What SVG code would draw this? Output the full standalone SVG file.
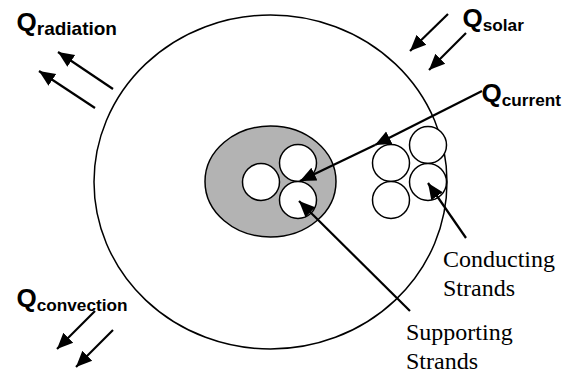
<svg xmlns="http://www.w3.org/2000/svg" width="563" height="373" viewBox="0 0 563 373">
<style>
.c{fill:#fff;stroke:#000;stroke-width:1.5}
.a{stroke:#000;stroke-width:2.2;fill:none;marker-end:url(#h)}
.q{font-family:"Liberation Sans",Arial,sans-serif;font-weight:bold;font-size:26px;fill:#000}
.s{font-size:17.2px}
.r{font-size:19px}
.t{font-family:"Liberation Serif","Times New Roman",serif;font-size:24px;fill:#000}
</style>
<defs><marker id="h" markerUnits="userSpaceOnUse" markerWidth="18" markerHeight="16" refX="16" refY="8" orient="auto"><path d="M0 1L16 8L0 15z" fill="#000"/></marker></defs>
<g id="outer"><ellipse class="c" cx="270.5" cy="182" rx="176.5" ry="167"/></g>
<g id="core"><ellipse cx="270.5" cy="181.5" rx="65.5" ry="55.5" fill="#b3b3b3" stroke="#000" stroke-width="1.5"/></g>
<g id="supporting-strands">
<circle class="c" cx="261" cy="182" r="18.5"/>
<circle class="c" cx="298" cy="163" r="18.5"/>
<circle class="c" cx="298" cy="200" r="18.5"/>
</g>
<g id="conducting-strands">
<circle class="c" cx="428" cy="145" r="18.5"/>
<circle class="c" cx="391" cy="163" r="18.5"/>
<circle class="c" cx="428" cy="182" r="18.5"/>
<circle class="c" cx="391" cy="200" r="18.5"/>
</g>
<g id="connectors">
<path class="a" d="M113 89L58 52"/>
<path class="a" d="M95 108L39 71"/>
<path class="a" d="M448 14L410 51"/>
<path class="a" d="M466 33L429 70"/>
<path class="a" d="M482 91L375 145"/>
<path class="a" d="M375 145L300 181"/>
<path class="a" d="M95 311L57 349"/>
<path class="a" d="M113 330L76 367"/>
<path class="a" d="M410 311L299 201"/>
<path class="a" d="M466 238L428 183"/>
</g>
<g id="labels">
<text class="q" x="16.5" y="31">Q<tspan class="r" dy="4">radiation</tspan></text>
<text class="q" x="462.5" y="27">Q<tspan class="s" dy="4">solar</tspan></text>
<text class="q" x="481.5" y="102">Q<tspan class="s" dy="4">current</tspan></text>
<text class="q" x="16.5" y="307">Q<tspan class="s" dy="4">convection</tspan></text>
<text class="t" x="443" y="267">Conducting</text>
<text class="t" x="443" y="296">Strands</text>
<text class="t" x="406" y="340">Supporting</text>
<text class="t" x="406" y="369">Strands</text>
</g>
</svg>
